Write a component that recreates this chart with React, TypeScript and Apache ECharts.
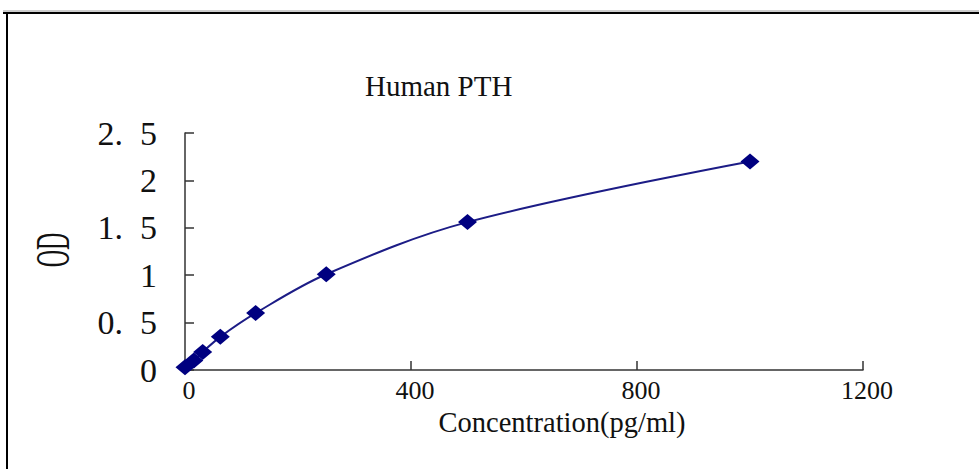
import React, { useEffect, useRef } from "react";
import * as echarts from "echarts";

const concentrations = [0, 15.6, 31.25, 62.5, 125, 250, 500, 1000];
const odValues = [0.03, 0.1, 0.19, 0.35, 0.6, 1.01, 1.56, 2.2];
const yTickLabels = ["0", "0.\u20025", "1", "1.\u20025", "2", "2.\u20025"];
const xTickLabels = ["0", "400", "800", "1200"];
const titleText = "Human PTH";
const xName = "Concentration(pg/ml)";
const yName = "OD";

const SERIF = "'Liberation Serif', 'Times New Roman', serif";

export default function App() {
  const ref = useRef<HTMLDivElement>(null);
  useEffect(() => {
    document.body.style.margin = "0";
    if (!ref.current) return;
    const chart = echarts.init(ref.current, undefined, { renderer: "svg" });
    const data = concentrations.map((c, i) => [c, odValues[i]]);
    chart.setOption({
      animation: false,
      backgroundColor: "#ffffff",
      title: {
        text: titleText,
        left: 365,
        top: 71,
        padding: 0,
        textStyle: { fontFamily: SERIF, fontSize: 29, fontWeight: "normal", color: "#111" },
      },
      grid: { left: 185, right: 116, top: 133, bottom: 99, containLabel: false },
      xAxis: {
        type: "value",
        min: 0,
        max: 1200,
        interval: 400,
        name: xName,
        nameLocation: "middle",
        nameGap: 39,
        nameMoveOverlap: false,
        nameTextStyle: {
          fontFamily: SERIF,
          fontSize: 28.5,
          lineHeight: 26,
          color: "#111",
          padding: [0, 0, 0, 76],
        },
        axisLine: { show: true, lineStyle: { color: "#333", width: 1.5 } },
        axisTick: { show: true, inside: true, length: 9, lineStyle: { color: "#333", width: 1.5 } },
        splitLine: { show: false },
        axisLabel: {
          margin: 8,
          fontFamily: SERIF,
          fontSize: 26,
          lineHeight: 24,
          color: "#111",
          padding: [0, 0, 0, 8],
          formatter: (v: number) => xTickLabels[Math.round(v / 400)] ?? String(v),
        },
      },
      yAxis: {
        type: "value",
        min: 0,
        max: 2.5,
        interval: 0.5,
        axisLine: { show: true, lineStyle: { color: "#333", width: 1.5 } },
        axisTick: { show: true, inside: true, length: 9, lineStyle: { color: "#333", width: 1.5 } },
        splitLine: { show: false },
        axisLabel: {
          margin: 28,
          fontFamily: SERIF,
          fontSize: 34,
          color: "#111",
          formatter: (v: number) => yTickLabels[Math.round(v / 0.5)] ?? String(v),
        },
      },
      graphic: [
        { type: "line", shape: { x1: 3, y1: 11, x2: 979, y2: 11 }, style: { stroke: "#999", lineWidth: 1 } },
        { type: "line", shape: { x1: 3, y1: 13, x2: 979, y2: 13 }, style: { stroke: "#000", lineWidth: 2 } },
        { type: "line", shape: { x1: 7, y1: 12, x2: 7, y2: 469 }, style: { stroke: "#000", lineWidth: 2 } },
        {
          type: "text",
          x: 53,
          y: 250,
          rotation: Math.PI / 2,
          scaleY: 2,
          style: {
            text: yName,
            fontFamily: SERIF,
            fontSize: 24,
            fill: "#111",
            align: "center",
            verticalAlign: "middle",
          },
        },
      ],
      series: [
        {
          type: "line",
          data,
          smooth: 0.35,
          symbol: "diamond",
          symbolSize: [19, 16],
          itemStyle: { color: "#000080" },
          lineStyle: { color: "#1c1c86", width: 2 },
        },
      ],
    });
    return () => chart.dispose();
  }, []);
  return <div ref={ref} style={{ width: 979, height: 469 }} />;
}
